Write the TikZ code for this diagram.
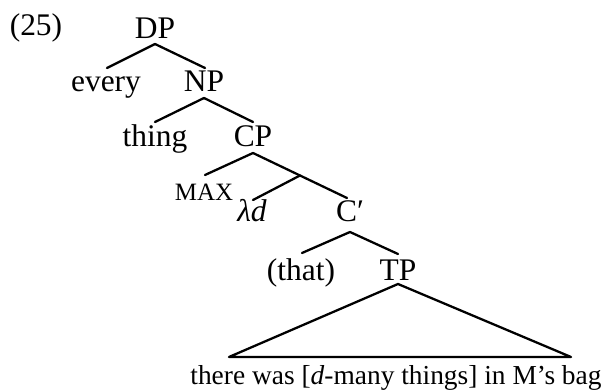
\documentclass[tikz,border=0pt]{standalone}
\usepackage{fontspec}
\setmainfont{Liberation Serif}
\usepackage{tkz-euclide}
\usetikzlibrary{calc}
\usetikzlibrary{positioning}

\begin{document}
\begin{tikzpicture}
\useasboundingbox (0,0) rectangle (12.08,7.82);
\tikzset{lab/.style={anchor=base,inner sep=0pt,font=\fontsize{17.9}{21}\selectfont},
         small/.style={anchor=base,inner sep=0pt,font=\fontsize{14.2}{17}\selectfont},
         yield/.style={anchor=base,inner sep=0pt,font=\fontsize{15.6}{18}\selectfont},
         branch/.style={line width=1.3pt,line cap=round,line join=round}}
%==========================================
% labels
\node[lab] (ex) at (0.72,7.10) {(25)};
\node[lab] (DP) at (3.10,7.04) {DP};
\node[lab] (every) at (2.12,5.98) {every};
\node[lab] (NP) at (4.08,5.98) {NP};
\node[lab] (thing) at (3.10,4.88) {thing};
\node[lab] (CP) at (5.06,4.88) {CP};
\node[small] (max) at (4.08,3.80) {MAX};
\node[lab] (lam) at (5.04,3.38) {\textit{λd}};
\node[lab] (Cbar) at (7.00,3.38) {C′};
\node[lab] (that) at (6.02,2.20) {(that)};
\node[lab] (TP) at (7.96,2.20) {TP};
\node[yield] (sent) at (7.92,0.12) {there was [\textit{d}-many things] in M’s bag};
%==========================================
% branch ends
\tkzDefPoint[](3.10,6.94){DPb};
\tkzDefPoint[](2.14,6.46){everyt};
\tkzDefPoint[](4.10,6.46){NPt};
\tkzDefPoint[](4.08,5.86){NPb};
\tkzDefPoint[](3.10,5.38){thingt};
\tkzDefPoint[](5.06,5.38){CPt};
\tkzDefPoint[](5.06,4.76){CPb};
\tkzDefPoint[](4.10,4.32){maxt};
\tkzDefPoint[](6.00,4.31){bar};
\tkzDefPoint[](5.06,3.82){lamt};
\tkzDefPoint[](6.94,3.86){Cbart};
\tkzDefPoint[](7.00,3.18){Cbarb};
\tkzDefPoint[](6.04,2.76){thatt};
\tkzDefPoint[](7.96,2.74){TPt};
\tkzDefPoint[](7.96,2.14){TPb};
\tkzDefPoint[](4.58,0.68){triL};
\tkzDefPoint[](11.42,0.68){triR};
\tkzDrawSegments[branch](DPb,everyt DPb,NPt NPb,thingt NPb,CPt);
\tkzDrawSegments[branch](CPb,maxt bar,lamt Cbarb,thatt Cbarb,TPt);
\draw[branch] (CPb) -- (bar) -- (Cbart);
\draw[branch] (TPb) -- (triL) -- (triR) -- cycle;
\end{tikzpicture}
\end{document}
